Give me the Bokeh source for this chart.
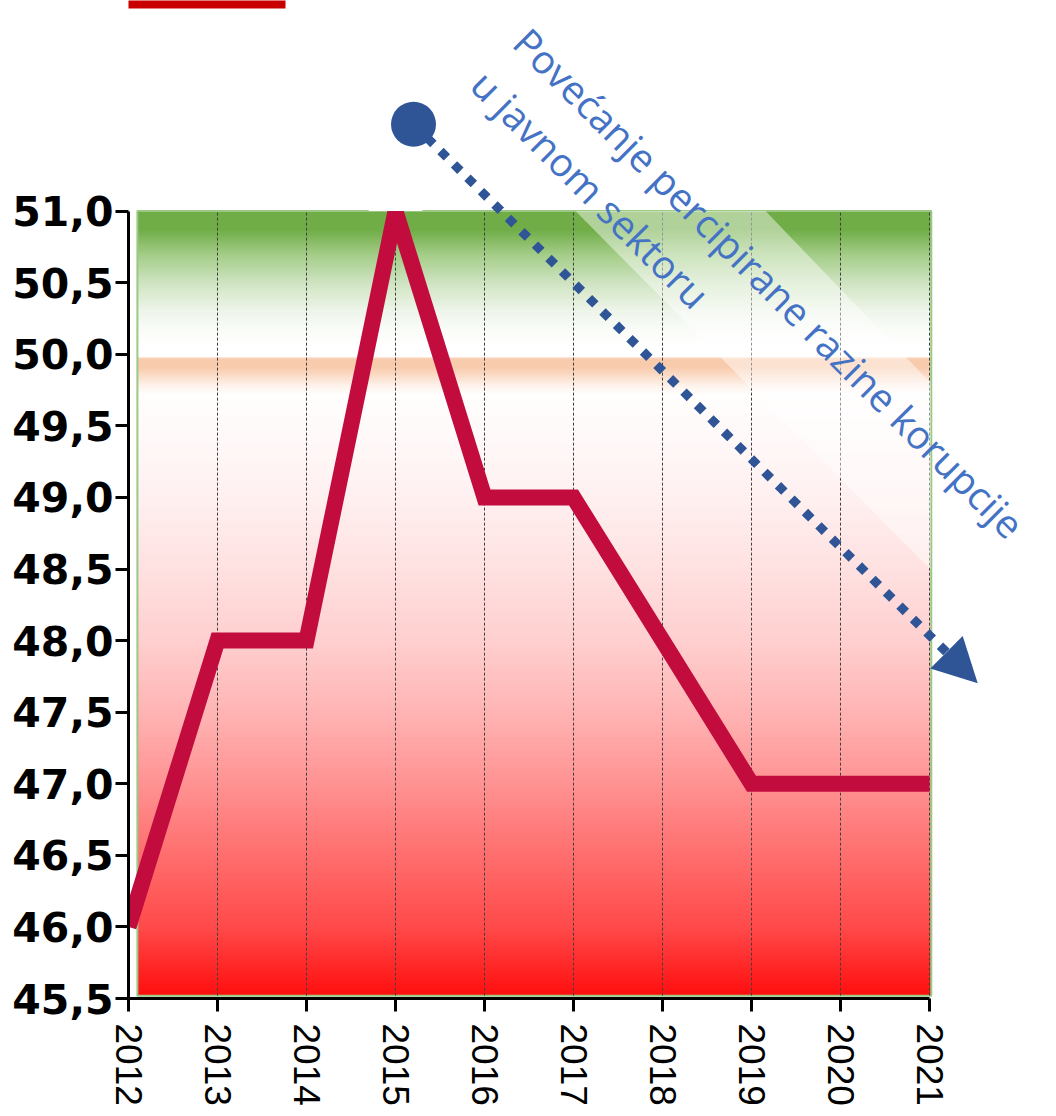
import math
from bokeh.plotting import figure
from bokeh.models import FixedTicker, Range1d
from bokeh.core.properties import value
from bokeh.embed import file_html
from bokeh.resources import INLINE

# ---------------- data ----------------
years = [2012, 2013, 2014, 2015, 2016, 2017, 2018, 2019, 2020, 2021]
index_values = [46.0, 48.0, 48.0, 51.0, 49.0, 49.0, 48.0, 47.0, 47.0, 47.0]
y_ticks = [45.5, 46.0, 46.5, 47.0, 47.5, 48.0, 48.5, 49.0, 49.5, 50.0, 50.5, 51.0]
y_tick_labels = ["45,5", "46,0", "46,5", "47,0", "47,5", "48,0",
                 "48,5", "49,0", "49,5", "50,0", "50,5", "51,0"]
annotation_lines = ["Povećanje percipirane razine korupcije", "u javnom sektoru"]

# ---------------- layout ----------------
W, H = 1056, 1108
BORDER_L, BORDER_B = 128, 108
PX_X, PX_Y = 89.0, 143.45          # pixels per year / per index point
X0, Y0 = years[0], y_ticks[0]
X1, Y1 = years[-1], y_ticks[-1]
x_end = X0 + (W - BORDER_L) / PX_X
y_end = Y0 + (H - BORDER_B) / PX_Y


def pg(px, py):
    """page pixel -> data coordinates (for decorations only)"""
    return X0 + (px - 128) / PX_X, Y0 + (1000 - py) / PX_Y


p = figure(width=W, height=H, output_backend="svg", toolbar_location=None,
           x_range=Range1d(X0, x_end), y_range=Range1d(Y0, y_end),
           min_border_left=BORDER_L, min_border_right=0,
           min_border_top=0, min_border_bottom=BORDER_B)
p.outline_line_color = None
p.xgrid.visible = False
p.ygrid.visible = False
p.background_fill_color = "white"
p.border_fill_color = "white"

# ---------------- background gradient ----------------
stops = [(45.52, "#FF0E0E"), (46.0, "#FF4A4A"), (46.5, "#FF6E6E"), (47.0, "#FF9292"),
         (47.5, "#FFB4B4"), (48.0, "#FFCFCF"), (48.5, "#FFE1E1"), (49.0, "#FFF0F0"),
         (49.5, "#FFFAFA"), (49.72, "#FFFEFD"), (49.78, "#FEF3EC"), (49.85, "#FBDCC8"),
         (49.91, "#F8CBAD"), (49.97, "#F8CBAD"), (49.985, "#FFFFFF"), (50.05, "#FFFFFF"),
         (50.15, "#FBFDFA"), (50.30, "#EEF5EA"), (50.50, "#CFE4C1"), (50.70, "#A2CC86"),
         (50.87, "#70AD47"), (51.0, "#70AD47")]


def hex2rgb(h):
    return tuple(int(h[i:i + 2], 16) for i in (1, 3, 5))


def color_at(v):
    for (a, ca), (b, cb) in zip(stops[:-1], stops[1:]):
        if a <= v <= b:
            t = 0 if b == a else (v - a) / (b - a)
            r1, g1, b1 = hex2rgb(ca)
            r2, g2, b2 = hex2rgb(cb)
            return "#%02X%02X%02X" % (round(r1 + (r2 - r1) * t), round(g1 + (g2 - g1) * t),
                                      round(b1 + (b2 - b1) * t))
    return stops[-1][1]


rect_left, rect_right = X0 + 0.1, X1 + 0.02
rect_bottom, rect_top = 45.52, Y1
step = 0.01
n = int(round((rect_top - rect_bottom) / step))
bots = [rect_bottom + i * step for i in range(n)]
tops = [min(b + step * 1.6, rect_top) for b in bots]
cols = [color_at(b + step / 2) for b in bots]
p.quad(left=rect_left, right=rect_right, bottom=bots, top=tops,
       fill_color=cols, line_color=None)
p.quad(left=rect_left, right=rect_right, bottom=rect_bottom, top=rect_top,
       fill_color=None, line_color="#9BC883", line_width=2)

# dashed vertical grid lines
p.segment(x0=years[1:], y0=rect_bottom, x1=years[1:], y1=rect_top,
          line_color="#404040", line_width=1, line_dash="3 2")

# translucent diagonal stripe
sx, sy = zip(pg(575, 211), pg(765, 211), pg(930, 383), pg(930, 570))
p.patch(list(sx), list(sy), fill_color="white", fill_alpha=0.45, line_color=None)

# ---------------- main series ----------------
p.line(years, index_values, line_color="#C20C3E", line_width=16, line_join="miter")
# clip the peak at the top of the chart area
p.quad(left=X0 + 2.7, right=X0 + 3.3, bottom=Y1, top=Y1 + 0.35,
       fill_color="white", line_color=None)

# partially visible legend swatch at the very top
lx0, ly0 = pg(82, 8)
lx1, ly1 = pg(285, -20)
p.quad(left=lx0, right=lx1, bottom=ly0, top=ly1, fill_color="#C80000", line_color=None)

# ---------------- arrow annotation ----------------
c_px, c_py = 413, 124
b_px, b_py = 946, 653
dx, dy = b_px - c_px, b_py - c_py
L = math.hypot(dx, dy)
ux, uy = dx / L, dy / L
nx, ny = uy, -ux
tip = (b_px + 44 * ux, b_py + 44 * uy)
k1 = (b_px + 23 * nx, b_py + 23 * ny)
k2 = (b_px - 23 * nx, b_py - 23 * ny)
ax0, ay0 = pg(c_px, c_py)
ax1, ay1 = pg(b_px, b_py)
p.line([ax0, ax1], [ay0, ay1], line_color="#2F5597", line_width=9, line_dash="9 10")
tx, ty = zip(pg(*tip), pg(*k1), pg(*k2))
p.patch(list(tx), list(ty), fill_color="#2F5597", line_color=None)
p.scatter([ax0], [ay0], size=45, marker="circle", fill_color="#2F5597", line_color=None)

ANG = 45.0
sa, ca = math.sin(math.radians(ANG)), math.cos(math.radians(ANG))
t1 = pg(521, 34)
t2 = pg(521 - 60 * sa, 34 + 60 * ca)
p.text(x=[t1[0], t2[0]], y=[t1[1], t2[1]], text=annotation_lines,
       angle=-ANG, angle_units="deg", text_font=value("Open Sans"),
       text_font_size="39px", text_color="#4472C4",
       text_align="left", text_baseline="alphabetic")

# ---------------- axes ----------------
for ax in (p.xaxis[0], p.yaxis[0]):
    ax.axis_line_color = "black"
    ax.axis_line_width = 3
    ax.major_tick_line_color = "black"
    ax.major_tick_line_width = 3
    ax.major_tick_out = 13
    ax.major_tick_in = 0
    ax.minor_tick_line_color = None
    ax.major_label_text_color = "black"

p.xaxis.bounds = (X0, X1)
p.xaxis.ticker = FixedTicker(ticks=years)
p.xaxis.major_label_orientation = "vertical"
p.xaxis.major_label_text_font = "Liberation Sans"
p.xaxis.major_label_text_font_size = "37px"
p.xaxis.major_label_standoff = 12

p.yaxis.bounds = (Y0, Y1)
p.yaxis.ticker = FixedTicker(ticks=y_ticks)
p.yaxis.major_label_overrides = {t: s for t, s in zip(y_ticks, y_tick_labels)}
p.yaxis.major_label_text_font = "DejaVu Sans"
p.yaxis.major_label_text_font_style = "bold"
p.yaxis.major_label_text_font_size = "41px"
p.yaxis.major_label_standoff = 2

open("out.html", "w").write(file_html(p, INLINE))
